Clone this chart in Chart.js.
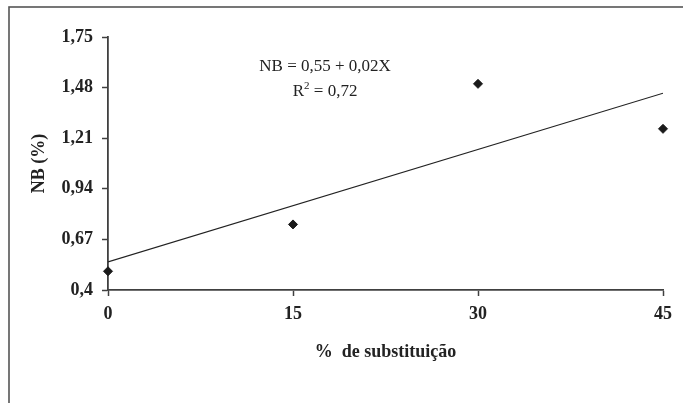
<!DOCTYPE html>
<html>
<head>
<meta charset="utf-8">
<script src="https://cdn.jsdelivr.net/npm/chart.js@4"></script>
<style>
  html, body { margin: 0; padding: 0; background: #ffffff; }
  #wrap { width: 683px; height: 403px; position: relative; }
</style>
</head>
<body>
<div id="wrap"><canvas id="c" width="683" height="403"></canvas></div>
<script>
// ---- data ----
const substitution = [0, 15, 30, 45];
const nbValues = [0.50, 0.75, 1.50, 1.26];
const trendX = [0, 45];
const trendY = [0.55, 1.45];
const yTicks = [0.4, 0.67, 0.94, 1.21, 1.48, 1.75];
const yTickLabels = ['0,4', '0,67', '0,94', '1,21', '1,48', '1,75'];
const xTicks = [0, 15, 30, 45];
const xTickLabels = ['0', '15', '30', '45'];
const equationText = 'NB = 0,55 + 0,02X';
const r2Value = '0,72';
const yTitle = 'NB (%)';
const xTitle = '%  de substituição';

const axisColor = '#404040';
const serif = "'Liberation Serif', 'Times New Roman', serif";

const framePlugin = {
  id: 'frame',
  beforeDraw(chart) {
    const ctx = chart.ctx;
    ctx.save();
    ctx.fillStyle = '#ffffff';
    ctx.fillRect(0, 0, chart.width, chart.height);
    ctx.strokeStyle = '#555555';
    ctx.lineWidth = 1.6;
    ctx.strokeRect(9, 7, chart.width + 20, chart.height + 20);
    ctx.restore();
  }
};

const equationPlugin = {
  id: 'equation',
  afterDatasetsDraw(chart) {
    const ctx = chart.ctx;
    const xs = chart.scales.x, ys = chart.scales.y;
    const cx = xs.getPixelForValue(17.6);
    const y1 = ys.getPixelForValue(1.59);
    const y2 = ys.getPixelForValue(1.458);
    ctx.save();
    ctx.fillStyle = '#222222';
    ctx.textBaseline = 'middle';
    ctx.font = '17px ' + serif;
    ctx.textAlign = 'center';
    ctx.fillText(equationText, cx, y1);
    // R² line
    const partR = 'R';
    const partRest = ' = ' + r2Value;
    const wR = ctx.measureText(partR).width;
    const wRest = ctx.measureText(partRest).width;
    ctx.font = '11px ' + serif;
    const wSup = ctx.measureText('2').width;
    const total = wR + wSup + wRest;
    let x = cx - total / 2;
    ctx.textAlign = 'left';
    ctx.font = '17px ' + serif;
    ctx.fillText(partR, x, y2);
    x += wR;
    ctx.font = '11px ' + serif;
    ctx.fillText('2', x, y2 - 6);
    x += wSup;
    ctx.font = '17px ' + serif;
    ctx.fillText(partRest, x, y2);
    ctx.restore();
  }
};

new Chart(document.getElementById('c'), {
  type: 'scatter',
  data: {
    datasets: [
      {
        label: 'NB',
        data: substitution.map((x, i) => ({ x: x, y: nbValues[i] })),
        pointStyle: 'rectRot',
        pointRadius: 4.5,
        backgroundColor: '#1a1a1a',
        borderColor: '#1a1a1a',
        borderWidth: 1,
        clip: false,
        order: 1
      },
      {
        label: 'trend',
        type: 'line',
        data: trendX.map((x, i) => ({ x: x, y: trendY[i] })),
        borderColor: '#222222',
        borderWidth: 1.2,
        pointRadius: 0,
        fill: false,
        order: 2
      }
    ]
  },
  options: {
    responsive: false,
    animation: false,
    devicePixelRatio: 1,
    layout: { padding: { left: 0, right: 20, top: 37, bottom: 0 } },
    plugins: { legend: { display: false }, tooltip: { enabled: false } },
    scales: {
      x: {
        type: 'linear',
        min: 0,
        max: 45,
        afterBuildTicks(scale) { scale.ticks = xTicks.map(v => ({ value: v })); },
        afterFit(scale) { scale.height = 113; },
        ticks: {
          callback: (v) => xTickLabels[xTicks.indexOf(v)],
          color: '#222222',
          font: { family: serif, size: 18, weight: 'bold' },
          padding: 8,
          maxRotation: 0
        },
        grid: { display: true, drawOnChartArea: false, drawTicks: true, tickLength: 6, tickColor: axisColor, tickWidth: 1.5 },
        border: { display: true, color: axisColor, width: 1.8 },
        title: {
          display: true,
          text: xTitle,
          color: '#222222',
          font: { family: serif, size: 18, weight: 'bold' },
          padding: { top: 0, bottom: 40 }
        }
      },
      y: {
        type: 'linear',
        min: 0.4,
        max: 1.75,
        afterBuildTicks(scale) { scale.ticks = yTicks.map(v => ({ value: v })); },
        afterFit(scale) { scale.width = 108; },
        ticks: {
          callback: (v) => yTickLabels[yTicks.indexOf(v)],
          color: '#222222',
          font: { family: serif, size: 18, weight: 'bold' },
          padding: 9
        },
        grid: { display: true, drawOnChartArea: false, drawTicks: true, tickLength: 6, tickColor: axisColor, tickWidth: 1.5 },
        border: { display: true, color: axisColor, width: 1.8 },
        title: {
          display: true,
          text: yTitle,
          color: '#222222',
          font: { family: serif, size: 18, weight: 'bold' },
          padding: { top: 29, bottom: 0 }
        }
      }
    }
  },
  plugins: [framePlugin, equationPlugin]
});
</script>
</body>
</html>
